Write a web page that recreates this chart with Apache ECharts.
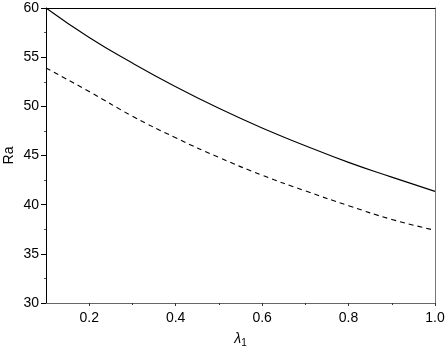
<!DOCTYPE html>
<html>
<head>
<meta charset="utf-8">
<script src="https://cdn.jsdelivr.net/npm/echarts@6/dist/echarts.min.js"></script>
<style>html,body{margin:0;padding:0;background:#fff;}#c{width:447px;height:356px;}</style>
</head>
<body>
<div id="c"></div>
<script>
const lambda1 = [0.1, 0.2, 0.3, 0.4, 0.5, 0.6, 0.7, 0.8, 0.9, 1.0];
const raSolid = [60.0, 57.0, 54.4, 52.0, 49.8, 47.8, 46.0, 44.3, 42.8, 41.35];
const raDashed = [53.9, 51.5, 49.0, 46.8, 44.8, 43.0, 41.4, 39.9, 38.5, 37.4];
const xTickLabels = [0.2, 0.4, 0.6, 0.8, 1.0];
const xMinorTicks = [0.3, 0.5, 0.7, 0.9];

const font = 'Liberation Sans, Arial, sans-serif';
const chart = echarts.init(document.getElementById('c'), null, {renderer: 'canvas'});
chart.setOption({
  animation: false,
  backgroundColor: '#fff',
  grid: {left: 46, right: 12, top: 8, bottom: 53, containLabel: false, outerBoundsMode: 'none'},
  xAxis: [{
    type: 'value', min: 0.1, max: 1.0, position: 'bottom',
    name: '{l|λ}{s|1}', nameLocation: 'middle', nameGap: 27, nameMoveOverlap: false,
    nameTextStyle: {rich: {l: {fontSize: 14, fontFamily: font, color: '#000', fontStyle: 'italic'}, s: {fontSize: 10, fontFamily: font, color: '#000', verticalAlign: 'bottom', padding: [8, 0, 0, 0]}}},
    axisLine: {show: true, lineStyle: {color: '#666', width: 1}},
    axisTick: {show: true, customValues: xTickLabels, length: 3, lineStyle: {color: '#333'}},
    axisLabel: {customValues: xTickLabels, formatter: v => v.toFixed(1), fontSize: 14, fontFamily: font, color: '#000', margin: 8},
    splitLine: {show: false}
  }, {
    type: 'value', min: 0.1, max: 1.0, position: 'bottom',
    axisLine: {show: false},
    axisTick: {show: true, customValues: xMinorTicks, length: 2, lineStyle: {color: '#333'}},
    axisLabel: {show: false},
    splitLine: {show: false}
  }, {
    type: 'value', min: 0.1, max: 1.0, position: 'top',
    axisLine: {show: true, lineStyle: {color: '#000', width: 1}},
    axisTick: {show: false}, axisLabel: {show: false}, splitLine: {show: false}
  }],
  yAxis: [{
    type: 'value', min: 30, max: 60, interval: 5, position: 'left',
    name: 'Ra', nameLocation: 'middle', nameGap: 30, nameMoveOverlap: false,
    nameTextStyle: {fontSize: 14, fontFamily: font, color: '#000'},
    axisLine: {show: true, lineStyle: {color: '#000', width: 1}},
    axisTick: {show: true, length: 5, lineStyle: {color: '#000'}},
    minorTick: {show: true, splitNumber: 2, length: 2, lineStyle: {color: '#555'}},
    axisLabel: {fontSize: 14, fontFamily: font, color: '#000', margin: 7},
    splitLine: {show: false}
  }, {
    type: 'value', min: 30, max: 60, position: 'right',
    axisLine: {show: true, lineStyle: {color: '#777', width: 1}},
    axisTick: {show: false}, axisLabel: {show: false}, splitLine: {show: false}
  }],
  series: [{
    type: 'line', smooth: true, symbol: 'none',
    data: lambda1.map((x, i) => [x, raSolid[i]]),
    lineStyle: {color: '#000', width: 1.1, type: 'solid'}
  }, {
    type: 'line', smooth: true, symbol: 'none',
    data: lambda1.map((x, i) => [x, raDashed[i]]),
    lineStyle: {color: '#000', width: 1.1, type: [5, 4]}
  }]
});
</script>
</body>
</html>
